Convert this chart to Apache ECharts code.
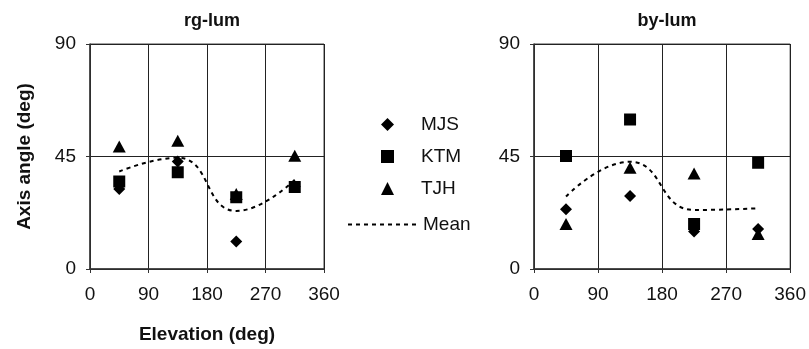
<!DOCTYPE html>
<html lang="en">
<head>
    <meta charset="UTF-8">
    <script src="https://cdn.jsdelivr.net/npm/echarts@6/dist/echarts.min.js"></script>
    <style>
        html, body { margin: 0; padding: 0; background: #fff; }
        #chart { width: 809px; height: 349px; }
    </style>
</head>
<body>
<div id="chart"></div>
<script>
    // elevation positions (deg)
    var elevations = [45, 135, 225, 315];

    // rg-lum panel
    var rgMJS = [32, 43, 11, 33];
    var rgKTM = [35, 38.7, 28.7, 32.8];
    var rgTJH = [49, 51.3, 30, 45.3];
    var rgMean = [39, 44.5, 23.2, 35.7];

    // by-lum panel
    var byMJS = [23.9, 29.2, 15, 16];
    var byKTM = [45.2, 59.8, 18, 42.5];
    var byTJH = [18, 40.5, 38.2, 14];
    var byMean = [29, 42.9, 23.6, 24.3];

    var font = 'Liberation Sans, Arial, sans-serif';

    function pairs(ys) {
        return elevations.map(function (x, i) { return [x, ys[i]]; });
    }

    function xAxis(idx, withName) {
        return {
            type: 'value', gridIndex: idx, min: 0, max: 360, interval: 90,
            name: withName ? 'Elevation (deg)' : '',
            nameLocation: 'middle', nameGap: 56,
            nameTextStyle: { fontFamily: font, fontSize: 19, fontWeight: 'bold', color: '#111' },
            axisLine: { show: true, lineStyle: { color: '#333', width: 1.5 } },
            axisTick: { show: true, length: 4, lineStyle: { color: '#333' } },
            axisLabel: { fontFamily: font, fontSize: 19, color: '#111', margin: 16 },
            splitLine: { show: true, lineStyle: { color: '#222', width: 1 } }
        };
    }

    function yAxis(idx, withName) {
        return {
            type: 'value', gridIndex: idx, min: 0, max: 90, interval: 45,
            name: withName ? 'Axis angle (deg)' : '',
            nameLocation: 'middle', nameGap: 56,
            nameTextStyle: { fontFamily: font, fontSize: 19, fontWeight: 'bold', color: '#111' },
            axisLine: { show: true, lineStyle: { color: '#333', width: 1.5 } },
            axisTick: { show: true, length: 4, lineStyle: { color: '#333' } },
            axisLabel: { fontFamily: font, fontSize: 19, color: '#111', margin: 14 },
            splitLine: { show: true, lineStyle: { color: '#222', width: 1 } }
        };
    }

    function scatter(name, idx, symbol, size, ys) {
        return {
            name: name, type: 'scatter', xAxisIndex: idx, yAxisIndex: idx,
            symbol: symbol, symbolSize: size, z: 3,
            itemStyle: { color: '#000', opacity: 1 },
            data: pairs(ys)
        };
    }

    function meanLine(idx, ys) {
        return {
            name: 'Mean', type: 'line', xAxisIndex: idx, yAxisIndex: idx,
            smooth: 0.5, symbol: 'none', z: 2,
            lineStyle: { color: '#000', width: 2, type: [4, 4] },
            itemStyle: { color: '#000' },
            data: pairs(ys)
        };
    }

    var legendText = { fontFamily: font, fontSize: 19, color: '#111' };

    var chart = echarts.init(document.getElementById('chart'));
    chart.setOption({
        backgroundColor: '#fff',
        animation: false,
        title: [
            { text: 'rg-lum', left: 207, top: 7, textAlign: 'center',
              textStyle: { fontFamily: font, fontSize: 18, fontWeight: 'bold', color: '#111' } },
            { text: 'by-lum', left: 662, top: 7, textAlign: 'center',
              textStyle: { fontFamily: font, fontSize: 18, fontWeight: 'bold', color: '#111' } }
        ],
        legend: [
            {
                orient: 'vertical', left: 376, top: 110,
                itemWidth: 13, itemHeight: 13, itemGap: 13,
                textStyle: Object.assign({ padding: [0, 0, 0, 22] }, legendText),
                data: [
                    { name: 'MJS', icon: 'diamond' },
                    { name: 'KTM', icon: 'rect' },
                    { name: 'TJH', icon: 'triangle' }
                ]
            },
            {
                orient: 'vertical', left: 342, top: 210,
                itemWidth: 70, itemHeight: 12,
                textStyle: Object.assign({ padding: [0, 0, 0, 0] }, legendText),
                data: [
                    { name: 'Mean', itemStyle: { opacity: 0 } }
                ]
            }
        ],
        grid: [
            { left: 90, top: 44, width: 234, height: 225, show: true, borderColor: '#444', borderWidth: 1 },
            { left: 534, top: 44, width: 257, height: 225, show: true, borderColor: '#444', borderWidth: 1 }
        ],
        xAxis: [xAxis(0, true), xAxis(1, false)],
        yAxis: [yAxis(0, true), yAxis(1, false)],
        series: [
            meanLine(0, rgMean),
            scatter('MJS', 0, 'diamond', 12, rgMJS),
            scatter('TJH', 0, 'triangle', [13, 12], rgTJH),
            scatter('KTM', 0, 'rect', 12, rgKTM),
            meanLine(1, byMean),
            scatter('MJS', 1, 'diamond', 12, byMJS),
            scatter('TJH', 1, 'triangle', [13, 12], byTJH),
            scatter('KTM', 1, 'rect', 12, byKTM)
        ]
    });
</script>
</body>
</html>
